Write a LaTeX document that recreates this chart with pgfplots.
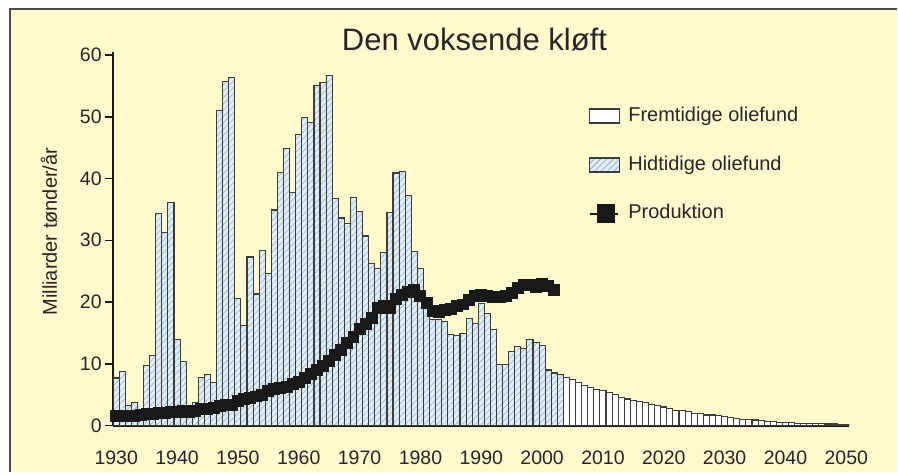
\documentclass[border=0pt]{standalone}
\usepackage{pgfplots}
\pgfplotsset{compat=1.18}
\usepackage{pgfplotstable}
\usepackage{fontspec}
\setmainfont{Liberation Sans}
\usetikzlibrary{patterns.meta}
\definecolor{bgy}{RGB}{255,249,206}
\definecolor{barblue}{RGB}{220,238,250}
\definecolor{edge}{RGB}{60,60,60}

\pgfplotstableread{
year val
1930 7.7
1931 8.7
1932 3.3
1933 3.7
1934 2.5
1935 9.7
1936 11.3
1937 34.4
1938 31.3
1939 36.1
1940 14.0
1941 10.4
1942 2.2
1943 3.8
1944 7.8
1945 8.3
1946 6.9
1947 51.0
1948 55.7
1949 56.4
1950 20.5
1951 16.2
1952 27.3
1953 21.3
1954 28.4
1955 24.6
1956 34.9
1957 41.0
1958 44.8
1959 37.8
1960 47.1
1961 49.9
1962 49.1
1963 55.1
1964 55.6
1965 56.7
1966 36.7
1967 33.6
1968 32.7
1969 37.0
1970 34.7
1971 30.7
1972 26.2
1973 25.5
1974 28.0
1975 34.5
1976 40.9
1977 41.2
1978 37.3
1979 28.2
1980 25.4
1981 19.5
1982 17.2
1983 17.2
1984 16.9
1985 14.7
1986 14.6
1987 14.9
1988 17.3
1989 16.5
1990 19.7
1991 18.1
1992 15.6
1993 9.9
1994 9.9
1995 12.0
1996 12.8
1997 12.5
1998 13.9
1999 13.5
2000 12.9
2001 9.0
2002 8.5
2003 8.2
}\past

\pgfplotstableread{
year val
2004 7.8
2005 7.4
2006 6.9
2007 6.5
2008 6.2
2009 5.9
2010 5.6
2011 5.3
2012 5.0
2013 4.6
2014 4.3
2015 4.0
2016 3.9
2017 3.7
2018 3.4
2019 3.2
2020 3.0
2021 2.8
2022 2.5
2023 2.4
2024 2.2
2025 2.0
2026 1.9
2027 1.7
2028 1.7
2029 1.6
2030 1.5
2031 1.3
2032 1.2
2033 1.0
2034 1.0
2035 0.9
2036 0.75
2037 0.7
2038 0.65
2039 0.55
2040 0.5
2041 0.45
2042 0.4
2043 0.4
2044 0.35
2045 0.3
2046 0.3
2047 0.25
2048 0.25
2049 0.2
2050 0.15
}\future

\pgfplotstableread{
year val
1930 1.5
1931 1.5
1932 1.5
1933 1.6
1934 1.7
1935 1.8
1936 1.9
1937 2.1
1938 2.1
1939 2.2
1940 2.2
1941 2.3
1942 2.2
1943 2.4
1944 2.6
1945 2.6
1946 2.9
1947 3.1
1948 3.4
1949 3.4
1950 3.9
1951 4.3
1952 4.5
1953 4.7
1954 4.9
1955 5.6
1956 5.9
1957 6.1
1958 6.3
1959 6.8
1960 7.1
1961 7.7
1962 8.3
1963 9.0
1964 9.7
1965 10.5
1966 11.4
1967 12.3
1968 13.3
1969 14.3
1970 15.6
1971 16.5
1972 17.4
1973 19.0
1974 19.4
1975 19.0
1976 20.5
1977 21.2
1978 21.6
1979 22.0
1980 21.0
1981 19.8
1982 18.6
1983 18.4
1984 18.7
1985 18.8
1986 19.3
1987 19.6
1988 20.3
1989 20.9
1990 21.1
1991 20.9
1992 20.8
1993 20.8
1994 21.0
1995 21.5
1996 22.3
1997 22.8
1998 22.8
1999 22.4
2000 22.9
2001 22.6
2002 21.9
}\prod

\begin{document}
\begin{tikzpicture}
\fill[white] (0pt,0pt) rectangle (898pt,473pt);
\fill[bgy] (10pt,0pt) rectangle (898pt,464pt);
\draw[line width=2pt, black!70] (10pt,0pt) -- (10pt,464pt) -- (898pt,464pt);
\begin{axis}[
  at={(113.3pt,47pt)}, anchor=south west,
  scale only axis, width=737pt, height=374pt,
  xmin=1929.5, xmax=2050.5, ymin=0, ymax=60.5,
  enlargelimits=false,
  axis x line*=bottom, axis y line*=left,
  axis line style={line width=2pt, black!90},
  xtick={1930,1940,1950,1960,1970,1980,1990,2000,2010,2020,2030,2040,2050},
  xticklabels={1930,1940,1950,1960,1970,1980,1990,2000,2010,2020,2030,2040,2050},
  xtick style={draw=none},
  ytick={0,10,20,30,40,50,60},
  ytick style={line width=1.5pt, black!90},
  tick align=outside, major tick length=8pt,
  /pgf/number format/assume math mode=true,
  tick label style={font=\fontsize{19.5}{23}\selectfont, text=black!85},
  xticklabel style={yshift=-14pt},
  ylabel={Milliarder tønder/år},
  every axis y label/.style={at={(rel axis cs:-0.0872,0.519)}, rotate=90, anchor=center, font=\fontsize{20}{24}\selectfont, text=black!85},
  title={Den voksende kløft},
  every axis title/.style={at={(rel axis cs:0.4908,1.0027)}, anchor=base, font=\fontsize{31}{36}\selectfont, text=black!85},
  legend style={at={(rel axis cs:0.6455,0.8556)}, anchor=north west, draw=none, fill=none, inner sep=0pt,
    font=\fontsize{20}{24}\selectfont, text=black!85, row sep=29pt,
    nodes={inner sep=0pt, text height=15pt, text depth=5pt},
    /tikz/every odd column/.append style={column sep=8pt}},
  legend cell align=left,
]
\addplot[ybar, bar width=1, bar shift=0pt, fill=white, draw=edge, line width=1.1pt,
  legend image code/.code={\draw[fill=white, draw=edge, line width=1.2pt] (0pt,-7pt) rectangle (30pt,7pt);}]
  table[x=year, y=val] {\future};
\addlegendentry{Fremtidige oliefund}
\addplot[ybar, bar width=1, bar shift=0pt, fill=barblue, draw=edge, line width=1.1pt,
  postaction={pattern={Lines[angle=45,distance=4.5pt,line width=0.5pt]}, pattern color=black!35},
  legend image code/.code={\draw[fill=barblue, draw=edge, line width=1.2pt, postaction={pattern={Lines[angle=45,distance=4.5pt,line width=0.5pt]}, pattern color=black!35}] (0pt,-7pt) rectangle (30pt,7pt);}]
  table[x=year, y=val] {\past};
\addlegendentry{Hidtidige oliefund}
\addplot[black!90, line width=2pt, mark=square*, mark size=5.5pt, mark options={solid, fill=black!90, draw=black!90, line width=0pt},
  legend image code/.code={\draw[black!90, line width=2.5pt] (0pt,0pt) -- (28pt,0pt); \fill[black!90] (8pt,-8.5pt) rectangle (24pt,8.5pt);}]
  table[x=year, y=val] {\prod};
\addlegendentry{Produktion}
\end{axis}
\end{tikzpicture}
\end{document}
